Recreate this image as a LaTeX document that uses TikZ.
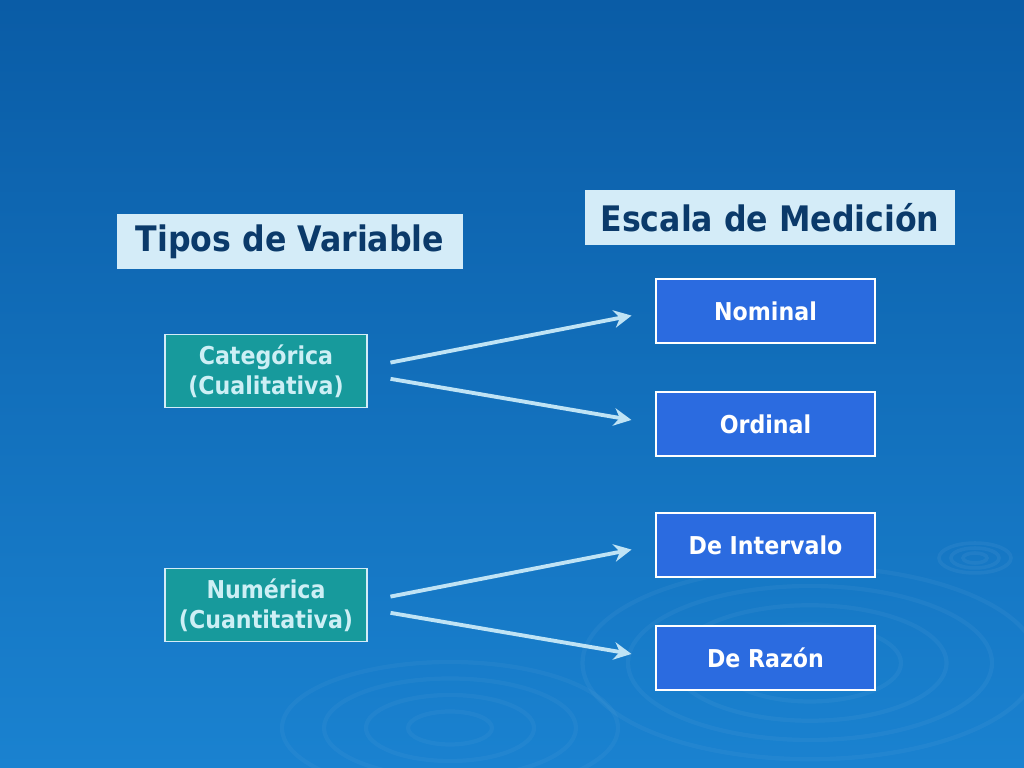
\documentclass[tikz,border=0pt]{standalone}
\usepackage{fontspec}
\setmainfont{DejaVu Sans Condensed}
\usetikzlibrary{arrows.meta,positioning}
\definecolor{bgtop}{HTML}{0A5CA6}
\definecolor{bgbot}{HTML}{1A82D0}
\definecolor{titlefill}{HTML}{D4ECF8}
\definecolor{titletext}{HTML}{0B3A6A}
\definecolor{typefill}{HTML}{179A9C}
\definecolor{typetext}{HTML}{CDEFF5}
\definecolor{scalefill}{HTML}{2B6BE0}
\definecolor{arrowcol}{HTML}{BFE3F5}
\begin{document}
\begin{tikzpicture}[
  titlebox/.style={fill=titlefill, text=titletext, font=\bfseries\fontsize{10}{12}\selectfont, inner sep=0pt},
  typebox/.style={fill=typefill, draw=titlefill, line width=0.5pt, text=typetext, align=center,
    inner sep=0pt, text width=2.02cm, minimum height=0.73cm, font=\bfseries\fontsize{7}{8.6}\selectfont},
  scalebox/.style={fill=scalefill, draw=white, line width=0.5pt, text=white,
    minimum width=2.19cm, minimum height=0.64cm, font=\bfseries\fontsize{7}{8.4}\selectfont},
  link/.style={arrowcol, line width=1.1pt, -{Stealth[length=5pt,width=5pt]}, shorten <=0.23cm, shorten >=0.24cm}]
\shade[top color=bgtop, bottom color=bgbot] (0,0) rectangle (10.24,7.68);
\useasboundingbox (0,0) rectangle (10.24,7.68);
% ripples
\foreach \r in {0.35,0.7,1.05,1.4,1.75}
  \draw[white, opacity=0.04, line width=1.2pt] (8.1,1.05) ellipse ({\r*1.3} and {\r*0.55});
\foreach \r in {0.3,0.6,0.9,1.2}
  \draw[white, opacity=0.035, line width=1.2pt] (4.5,0.4) ellipse ({\r*1.4} and {\r*0.55});
\foreach \r in {0.1,0.2,0.3}
  \draw[white, opacity=0.05, line width=1pt] (9.75,2.1) ellipse ({\r*1.2} and {\r*0.5});

\node[titlebox, minimum width=3.46cm, minimum height=0.55cm] (tipos) at (2.90,5.26) {Tipos de Variable};
\node[titlebox, minimum width=3.70cm, minimum height=0.55cm] (escala) at (7.70,5.50) {Escala de Medición};

\node[typebox] (cat) at (2.66,3.97) {Categórica\\(Cualitativa)};
\node[typebox] (num) at (2.66,1.63) {Numérica\\(Cuantitativa)};

\node[scalebox] (nom) at (7.655,4.57) {Nominal};
\node[scalebox] (ord) at (7.655,3.44) {Ordinal};
\node[scalebox] (int) at (7.655,2.23) {De Intervalo};
\node[scalebox] (raz) at (7.655,1.10) {De Razón};

\draw[link] ([yshift=0.04cm]cat.east) -- (nom.west);
\draw[link] ([yshift=-0.04cm]cat.east) -- (ord.west);
\draw[link] ([yshift=0.04cm]num.east) -- (int.west);
\draw[link] ([yshift=-0.04cm]num.east) -- (raz.west);
\end{tikzpicture}
\end{document}
